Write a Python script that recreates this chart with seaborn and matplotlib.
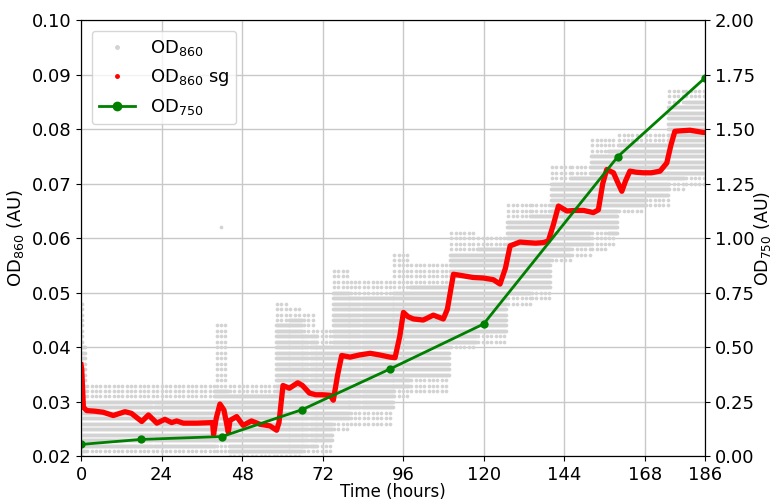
"""OD860 raw + smoothed (sg) with OD750 on a secondary axis."""
import matplotlib

matplotlib.use("Agg")
import matplotlib.pyplot as plt
import numpy as np
import pandas as pd
import seaborn as sns
from matplotlib.lines import Line2D

# --- OD750 samples (right axis) ---
od750_t = [0, 18, 42, 66, 92, 120, 160, 186]
od750_v = [0.055, 0.078, 0.091, 0.215, 0.40, 0.607, 1.374, 1.735]

# --- OD860 Savitzky-Golay smoothed trace ---
sg_t = [0.0, 0.2, 0.7, 1.7, 4.0, 6.6, 9.6, 13.1, 15.0, 18.1, 20.1, 22.6, 25.0,
        27.0, 28.5, 30.5, 34.5, 39.2, 39.5, 40.3, 41.4, 42.6, 43.9, 44.4, 46.4,
        48.3, 50.8, 53.3, 56.3, 58.3, 59.0, 60.2, 62.1, 64.6, 66.0, 68.1, 70.0,
        72.0, 74.2, 75.2, 76.5, 77.7, 80.2, 83.0, 86.2, 89.0, 92.1, 93.6, 95.0,
        96.1, 97.5, 99.1, 102.0, 105.0, 108.0, 109.2, 111.0, 114.0, 116.9, 120.0,
        122.9, 124.9, 126.5, 127.9, 130.8, 132.8, 135.5, 137.8, 139.3, 140.8,
        142.3, 144.8, 147.5, 149.8, 152.7, 154.2, 155.5, 156.7, 158.7, 160.0,
        161.2, 162.3, 163.6, 165.5, 167.6, 170.0, 172.6, 174.6, 175.8, 177.0,
        179.0, 181.5, 183.5, 185.5, 186.0]
sg_v = [0.0368, 0.0360, 0.0290, 0.0284, 0.0283, 0.0281, 0.0275, 0.0282, 0.0279,
        0.0264, 0.0276, 0.0261, 0.0268, 0.0262, 0.0265, 0.0261, 0.0261, 0.0262,
        0.0240, 0.0270, 0.0296, 0.0285, 0.0244, 0.0266, 0.0273, 0.0257, 0.0265,
        0.0259, 0.0256, 0.0248, 0.0262, 0.0330, 0.0325, 0.0335, 0.0330, 0.0316,
        0.0313, 0.0313, 0.0312, 0.0303, 0.0350, 0.0385, 0.0382, 0.0386, 0.0389,
        0.0386, 0.0382, 0.0381, 0.0420, 0.0464, 0.0456, 0.0452, 0.0450, 0.0459,
        0.0452, 0.0470, 0.0534, 0.0531, 0.0528, 0.0527, 0.0524, 0.0516, 0.0545,
        0.0586, 0.0593, 0.0592, 0.0591, 0.0592, 0.0595, 0.0625, 0.0659, 0.0650,
        0.0651, 0.0651, 0.0647, 0.0652, 0.0700, 0.0726, 0.0720, 0.0702, 0.0686,
        0.0705, 0.0723, 0.0721, 0.0720, 0.0720, 0.0723, 0.0738, 0.0770, 0.0796,
        0.0797, 0.0798, 0.0796, 0.0794, 0.0794]

# --- OD860 raw readings: envelope per time segment (core / outer spread) ---
seg_start = [0, 1.5, 40, 44, 58, 62, 66, 70, 75, 80, 93, 98, 110, 118, 127,
             134, 140, 146, 152, 157, 160, 168, 175, 180]
seg_end = [1.5, 40, 44, 58, 62, 66, 70, 75, 80, 93, 98, 110, 118, 127, 134,
           140, 146, 152, 157, 160, 168, 175, 180, 186]
core_lo = [0.021, 0.022, 0.023, 0.021, 0.021, 0.021, 0.022, 0.023, 0.027, 0.029,
           0.033, 0.035, 0.041, 0.043, 0.050, 0.051, 0.057, 0.059, 0.062, 0.061,
           0.066, 0.068, 0.071, 0.072]
core_hi = [0.040, 0.030, 0.032, 0.031, 0.044, 0.045, 0.042, 0.040, 0.050, 0.049,
           0.050, 0.051, 0.057, 0.058, 0.063, 0.064, 0.070, 0.071, 0.075, 0.076,
           0.077, 0.077, 0.084, 0.085]
outer_lo = [0.020, 0.021, 0.021, 0.020, 0.020, 0.020, 0.021, 0.021, 0.025, 0.026,
            0.031, 0.032, 0.040, 0.041, 0.048, 0.049, 0.056, 0.057, 0.058, 0.059,
            0.065, 0.066, 0.069, 0.070]
outer_hi = [0.048, 0.033, 0.044, 0.033, 0.048, 0.047, 0.046, 0.043, 0.054, 0.052,
            0.057, 0.055, 0.061, 0.060, 0.066, 0.066, 0.073, 0.073, 0.078, 0.078,
            0.079, 0.079, 0.087, 0.087]
outlier_t = [41.7]
outlier_v = [0.062]

STEP = 0.001  # instrument resolution, readings fall on these rows

rows = []
for t0, t1, clo, chi, olo, ohi in zip(seg_start, seg_end, core_lo, core_hi,
                                      outer_lo, outer_hi):
    levels = np.round(np.arange(olo, ohi + STEP / 2, STEP), 4)
    core = levels[(levels >= clo - 1e-9) & (levels <= chi + 1e-9)]
    outer = levels[(levels < clo - 1e-9) | (levels > chi + 1e-9)]
    for t in np.arange(t0, t1, 0.3):
        rows += [(t, v) for v in core]
    for t in np.arange(t0 + 0.4, t1, 1.3):
        rows += [(t, v) for v in outer]
rows += list(zip(outlier_t, outlier_v))
raw = pd.DataFrame(rows, columns=["time", "od860"])

sg = pd.DataFrame({"time": sg_t, "od860": sg_v})
od750 = pd.DataFrame({"time": od750_t, "od750": od750_v})

fig = plt.figure(figsize=(7.74, 5.01), dpi=100)
ax = fig.add_axes([0.1047, 0.089, 0.8062, 0.871])

sns.scatterplot(data=raw, x="time", y="od860", ax=ax, color="lightgray",
                s=7, linewidth=0, legend=False, zorder=2)
sns.lineplot(data=sg, x="time", y="od860", ax=ax, color="red", lw=3.8,
             legend=False, zorder=3, estimator=None, sort=False)

ax.set_xlim(0, 186)
ax.set_ylim(0.02, 0.10)
ax.set_xticks([0, 24, 48, 72, 96, 120, 144, 168, 186])
ax.set_yticks(np.arange(0.02, 0.1001, 0.01))
ax.set_yticklabels([f"{v:.2f}" for v in np.arange(0.02, 0.1001, 0.01)])
ax.grid(True, color="#c8c8c8", lw=1)
ax.set_axisbelow(True)
ax.tick_params(labelsize=13)
ax.set_xlabel("Time (hours)", fontsize=12, labelpad=-1)
ax.set_ylabel("OD$_{860}$ (AU)", fontsize=13, labelpad=4)

ax2 = ax.twinx()
sns.lineplot(data=od750, x="time", y="od750", ax=ax2, color="green", lw=2,
             marker="o", markersize=6, markeredgewidth=0, legend=False)
ax2.set_ylim(0, 2.0)
ax2.set_yticks(np.arange(0, 2.001, 0.25))
ax2.set_yticklabels([f"{v:.2f}" for v in np.arange(0, 2.001, 0.25)])
ax2.tick_params(labelsize=13)
ax2.set_ylabel("OD$_{750}$ (AU)", fontsize=12.5, rotation=90, labelpad=-2)
ax2.set_xlim(0, 186)

handles = [
    Line2D([], [], ls="none", marker=".", color="lightgray", markersize=5),
    Line2D([], [], ls="none", marker=".", color="red", markersize=5),
    Line2D([], [], color="green", lw=2, marker="o", markersize=6),
]
ax2.legend(handles, ["OD$_{860}$", "OD$_{860}$ sg", "OD$_{750}$"],
           loc="upper left", fontsize=13, borderaxespad=0.6)

fig.savefig("out.png", dpi=100)
